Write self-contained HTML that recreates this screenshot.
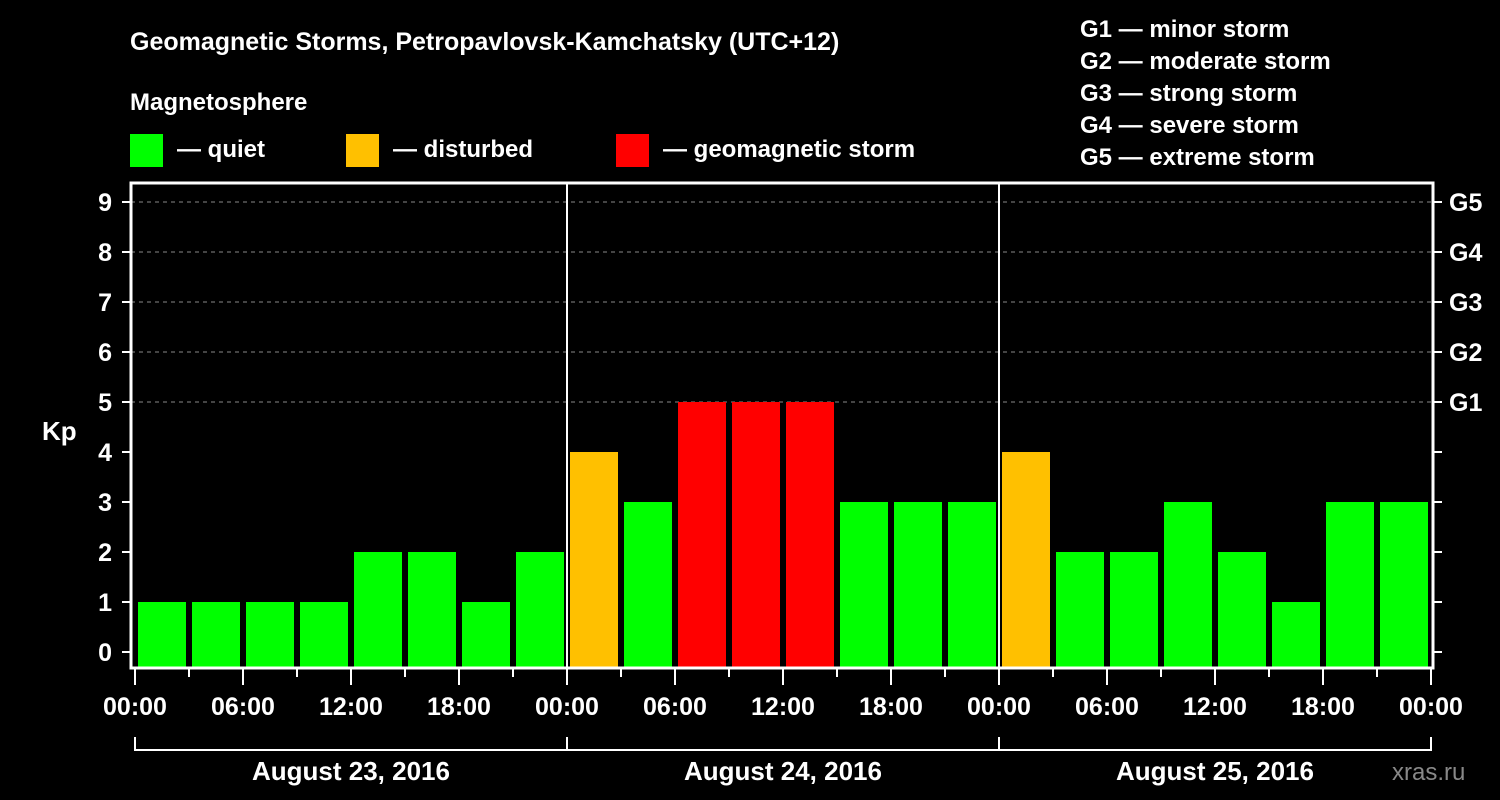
<!DOCTYPE html>
<html><head><meta charset="utf-8"><style>
body{margin:0;background:#000;width:1500px;height:800px;overflow:hidden}
svg{display:block;font-family:"Liberation Sans",Arial,sans-serif;font-weight:bold}
</style></head><body>
<svg id="c" width="1500" height="800">
<text x="130" y="50" fill="#fff" font-size="25">Geomagnetic Storms, Petropavlovsk-Kamchatsky (UTC+12)</text>
<text x="130" y="110" fill="#fff" font-size="24">Magnetosphere</text>
<g><rect x="130" y="134" width="33" height="33" fill="#00ff00"/><text x="177" y="157" fill="#fff" font-size="24">— quiet</text></g>
<g><rect x="346" y="134" width="33" height="33" fill="#ffc000"/><text x="393" y="157" fill="#fff" font-size="24">— disturbed</text></g>
<g><rect x="616" y="134" width="33" height="33" fill="#ff0000"/><text x="663" y="157" fill="#fff" font-size="24">— geomagnetic storm</text></g>
<g fill="#fff" font-size="24">
<text x="1080" y="37">G1 — minor storm</text><text x="1080" y="69">G2 — moderate storm</text><text x="1080" y="101">G3 — strong storm</text><text x="1080" y="133">G4 — severe storm</text><text x="1080" y="165">G5 — extreme storm</text></g>
<text x="42" y="440" fill="#fff" font-size="26">Kp</text>
<text x="1392" y="780" fill="#888" font-size="24" font-weight="normal">xras.ru</text>
<g id="plot"></g>
</svg>
<script>
const values=[1,1,1,1,2,2,1,2, 4,3,5,5,5,3,3,3, 4,2,2,3,2,1,3,3];
const yTicks=[0,1,2,3,4,5,6,7,8,9];
const gLabels=["G1","G2","G3","G4","G5"];
const gLevels=[5,6,7,8,9];
const timeLabels=["00:00","06:00","12:00","18:00"];
const days=["August 23, 2016","August 24, 2016","August 25, 2016"];
const NS="http://www.w3.org/2000/svg";
const g=document.getElementById('plot');
const X0=135,HW=18,Y0=652,YU=50,L=131,R=1433,T=183,B=668;
const x=h=>X0+h*HW, y=v=>Y0-v*YU;
function mk(t,a,p){const e=document.createElementNS(NS,t);for(const k in a)e.setAttribute(k,a[k]);(p||g).appendChild(e);return e;}
gLevels.forEach(v=>{const e=mk('line',{x1:L,x2:R,y1:y(v),y2:y(v),stroke:'#888','stroke-dasharray':'4,4'});

});
values.forEach((v,i)=>{const col=v>=5?'#ff0000':v==4?'#ffc000':'#00ff00';
const r=mk('rect',{x:x(i*3)+3,y:y(v),width:48,height:B-1-y(v),fill:col});

});
[1,2].forEach(d=>{const e=mk('line',{x1:x(d*24),x2:x(d*24),y1:T,y2:B,stroke:'#fff','stroke-width':2});

});
const f=mk('rect',{x:L,y:T,width:R-L,height:B-T,fill:'none',stroke:'#fff','stroke-width':3});


yTicks.forEach(v=>{mk('line',{x1:122,x2:L,y1:y(v),y2:y(v),stroke:'#fff','stroke-width':2});
mk('line',{x1:R,x2:1442,y1:y(v),y2:y(v),stroke:'#fff','stroke-width':2});
const t=mk('text',{x:112,y:y(v)+9,fill:'#fff','font-size':25,'text-anchor':'end'});t.textContent=v;

});
gLevels.forEach((v,i)=>{const t=mk('text',{x:1449,y:y(v)+9,fill:'#fff','font-size':25});t.textContent=gLabels[i];

});
for(let h=0;h<=72;h+=3){const major=h%6==0;mk('line',{x1:x(h),x2:x(h),y1:B,y2:major?685:677,stroke:'#fff','stroke-width':2});
if(major){const t=mk('text',{x:x(h),y:715,fill:'#fff','font-size':25,'text-anchor':'middle'});t.textContent=timeLabels[(h/6)%4];

}}
mk('line',{x1:x(0),x2:x(72),y1:750,y2:750,stroke:'#fff','stroke-width':2});
for(let d=0;d<=3;d++)mk('line',{x1:x(d*24),x2:x(d*24),y1:737,y2:751,stroke:'#fff','stroke-width':2});
days.forEach((s,d)=>{const t=mk('text',{x:x(d*24+12),y:780,fill:'#fff','font-size':26,'text-anchor':'middle'});t.textContent=s;

});
</script>
</body></html>
